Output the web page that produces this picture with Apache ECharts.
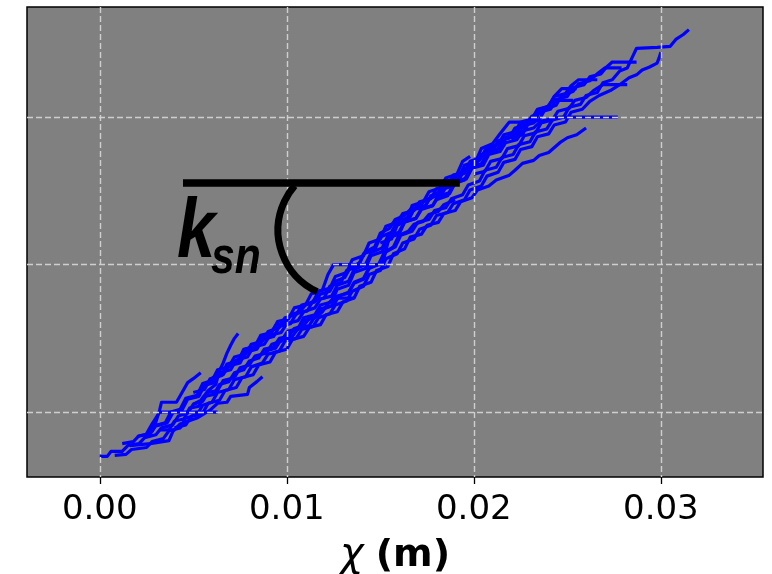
<!DOCTYPE html>
<html><head><meta charset="utf-8">
<script src="https://cdn.jsdelivr.net/npm/echarts@6/dist/echarts.min.js"></script>
<style>html,body{margin:0;padding:0;background:#fff}#c{width:772px;height:574px}</style>
</head><body><div id="c"></div>
<script>
// x axis: chi (m); y axis: elevation-like values (unlabelled in the reference)
const chiTicks = [0, 0.01, 0.02, 0.03];
const chiMin = -0.00389, chiMax = 0.03546;
const elevGrid = [150, 300, 450];
const elevMin = 84, elevMax = 562;

// river profiles, [chi, elevation]
const p01 = [[0.0000,105],[0.0004,105],[0.0006,110],[0.0012,110],[0.0015,116],[0.0021,118],[0.0024,124],[0.0030,127],[0.0033,134],[0.0039,137],[0.0042,146],[0.0047,149],[0.0050,158],[0.0055,161],[0.0058,170],[0.0063,172],[0.0066,182],[0.0072,185],[0.0075,195],[0.0080,198],[0.0083,207],[0.0089,210],[0.0092,219],[0.0097,222],[0.0100,231],[0.0106,234],[0.0109,243],[0.0115,246],[0.0118,255],[0.0124,258],[0.0127,268],[0.0133,271],[0.0136,282],[0.0141,286],[0.0144,297],[0.0150,301],[0.0153,313],[0.0158,318],[0.0161,330],[0.0167,334],[0.0170,343],[0.0176,346],[0.0179,355],[0.0185,358],[0.0188,367],[0.0194,371],[0.0197,381],[0.0203,385],[0.0206,396],[0.0212,399],[0.0215,409],[0.0221,412],[0.0224,422],[0.0230,425],[0.0233,435],[0.0239,438],[0.0242,447],[0.0248,450],[0.0251,460],[0.0257,463],[0.0260,472],[0.0266,475],[0.0269,485],[0.0274,488],[0.0278,497],[0.0282,500],[0.0285,512],[0.0287,520],[0.0298,521],[0.0305,522],[0.0308,529],[0.0312,534],[0.0315,539]];
const p02 = [[0.0008,106],[0.0014,107],[0.0017,112],[0.0025,114],[0.0028,120],[0.0034,123],[0.0037,131],[0.0043,134],[0.0046,144],[0.0052,147],[0.0055,157],[0.0060,160],[0.0063,170],[0.0069,173],[0.0072,183],[0.0078,186],[0.0081,196],[0.0087,200],[0.0090,209],[0.0096,212],[0.0099,222],[0.0105,225],[0.0108,234],[0.0114,237],[0.0117,246],[0.0123,250],[0.0126,259],[0.0132,263],[0.0135,273],[0.0141,278],[0.0144,290],[0.0150,294],[0.0153,306],[0.0159,311],[0.0162,322],[0.0168,326],[0.0171,336],[0.0177,340],[0.0180,350],[0.0186,353],[0.0189,362],[0.0195,366],[0.0198,376],[0.0204,380],[0.0207,390],[0.0213,394],[0.0216,404],[0.0222,407],[0.0225,417],[0.0231,420],[0.0234,430],[0.0240,433],[0.0243,442],[0.0249,445],[0.0252,455],[0.0258,458],[0.0262,466],[0.0267,472],[0.0273,477],[0.0278,483],[0.0283,490],[0.0287,493],[0.0290,498],[0.0294,501],[0.0298,505],[0.0299,510],[0.0300,516]];
const p03 = [[0.0012,118],[0.0018,120],[0.0021,126],[0.0027,128],[0.0030,136],[0.0036,139],[0.0039,149],[0.0044,152],[0.0047,163],[0.0053,166],[0.0056,177],[0.0061,180],[0.0064,190],[0.0070,193],[0.0073,203],[0.0079,206],[0.0082,216],[0.0088,219],[0.0091,228],[0.0097,231],[0.0100,240],[0.0106,243],[0.0109,252],[0.0115,256],[0.0118,265],[0.0124,268],[0.0127,279],[0.0133,283],[0.0136,295],[0.0142,300],[0.0145,312],[0.0151,317],[0.0154,329],[0.0160,333],[0.0163,344],[0.0169,347],[0.0172,356],[0.0178,360],[0.0181,369],[0.0187,372],[0.0190,383],[0.0196,387],[0.0199,398],[0.0205,401],[0.0208,412],[0.0214,415],[0.0217,424],[0.0223,427],[0.0226,436],[0.0232,439],[0.0236,446],[0.0246,450],[0.0277,450]];
const p04 = [[0.0020,125],[0.0026,128],[0.0029,136],[0.0035,139],[0.0038,150],[0.0043,153],[0.0046,164],[0.0052,167],[0.0055,179],[0.0060,182],[0.0063,193],[0.0069,196],[0.0072,206],[0.0078,209],[0.0081,219],[0.0087,222],[0.0090,232],[0.0096,236],[0.0099,246],[0.0105,249],[0.0108,259],[0.0114,262],[0.0117,273],[0.0123,276],[0.0126,288],[0.0132,292],[0.0135,305],[0.0141,309],[0.0144,322],[0.0150,326],[0.0153,339],[0.0159,343],[0.0162,352],[0.0168,355],[0.0171,364],[0.0177,367],[0.0180,377],[0.0186,380],[0.0189,391],[0.0195,394],[0.0198,405],[0.0204,409],[0.0207,419],[0.0213,422],[0.0216,432],[0.0222,435],[0.0225,445],[0.0231,448],[0.0234,458],[0.0240,461],[0.0243,471],[0.0249,474],[0.0252,482],[0.0256,488],[0.0266,488]];
const p05 = [[0.0040,134],[0.0046,137],[0.0049,146],[0.0055,149],[0.0058,159],[0.0064,162],[0.0067,172],[0.0073,175],[0.0076,185],[0.0082,188],[0.0085,198],[0.0091,201],[0.0094,211],[0.0100,214],[0.0103,224],[0.0109,227],[0.0112,236],[0.0118,239],[0.0121,249],[0.0127,252],[0.0130,262],[0.0136,266],[0.0139,278],[0.0145,282],[0.0148,294],[0.0154,298],[0.0157,311],[0.0163,316],[0.0166,328],[0.0172,331],[0.0175,340],[0.0181,343],[0.0184,352],[0.0190,355],[0.0193,364],[0.0199,368],[0.0202,376],[0.0208,380],[0.0212,386],[0.0219,391],[0.0222,396],[0.0226,403],[0.0232,406],[0.0235,411],[0.0240,414],[0.0246,424],[0.0250,429],[0.0255,432],[0.0260,439]];
const p06 = [[0.0060,185],[0.0066,188],[0.0069,197],[0.0075,200],[0.0078,211],[0.0084,214],[0.0087,224],[0.0093,227],[0.0096,237],[0.0102,240],[0.0105,250],[0.0111,253],[0.0114,263],[0.0120,266],[0.0123,278],[0.0129,282],[0.0132,294],[0.0138,298],[0.0141,311],[0.0147,315],[0.0150,328],[0.0156,333],[0.0159,344],[0.0165,348],[0.0168,357],[0.0174,360],[0.0177,369],[0.0183,372],[0.0186,382],[0.0192,386],[0.0195,397],[0.0201,401],[0.0204,412],[0.0210,416],[0.0213,426],[0.0219,429],[0.0222,439],[0.0228,442],[0.0231,451],[0.0237,455],[0.0240,462],[0.0242,467],[0.0253,467]];
const p07 = [[0.0100,232],[0.0106,235],[0.0109,246],[0.0115,249],[0.0118,259],[0.0124,262],[0.0127,275],[0.0133,279],[0.0136,292],[0.0142,296],[0.0145,309],[0.0151,313],[0.0154,327],[0.0160,331],[0.0163,343],[0.0169,347],[0.0172,357],[0.0178,360],[0.0181,370],[0.0187,373],[0.0190,384],[0.0196,388],[0.0199,400],[0.0205,403],[0.0208,415],[0.0214,418],[0.0217,428],[0.0223,431],[0.0226,441],[0.0232,444],[0.0235,455],[0.0241,458],[0.0244,468],[0.0250,471],[0.0253,480],[0.0259,483],[0.0262,491],[0.0268,494],[0.0271,501],[0.0274,506],[0.0287,506]];
const p08 = [[0.0016,116],[0.0027,118],[0.0037,121],[0.0039,130],[0.0043,138],[0.0052,144],[0.0059,152],[0.0063,159],[0.0068,160],[0.0070,166],[0.0079,168],[0.0080,175],[0.0084,181],[0.0087,186]];
const p09 = [[0.0025,128],[0.0028,138],[0.0030,144],[0.0032,150],[0.0063,150]];
const p10 = [[0.0050,158],[0.0054,162],[0.0058,172],[0.0062,178],[0.0064,192],[0.0066,200],[0.0068,210],[0.0070,218],[0.0072,225],[0.0074,230]];
const p11 = [[0.0028,130],[0.0030,140],[0.0032,152],[0.0033,160],[0.0041,160],[0.0044,170],[0.0047,180],[0.0050,184],[0.0054,190]];
const p12 = [[0.0088,212],[0.0094,215],[0.0097,224],[0.0103,227],[0.0106,235],[0.0112,238],[0.0115,247],[0.0119,252],[0.0122,260],[0.0125,266],[0.0136,266]];
const p13 = [[0.0050,170],[0.0056,173],[0.0059,184],[0.0065,187],[0.0068,199],[0.0074,202],[0.0077,214],[0.0083,217],[0.0086,228],[0.0092,231],[0.0095,242],[0.0101,245],[0.0104,256],[0.0110,259],[0.0113,270],[0.0119,274],[0.0122,290],[0.0125,300],[0.0151,300],[0.0154,322],[0.0158,340],[0.0164,345],[0.0167,360],[0.0173,364],[0.0176,374],[0.0182,378],[0.0185,388],[0.0191,392],[0.0194,405],[0.0198,410]];
const p14 = [[0.0150,322],[0.0156,326],[0.0159,340],[0.0165,345],[0.0168,356],[0.0174,359],[0.0177,370],[0.0183,374],[0.0186,385],[0.0192,389],[0.0195,401],[0.0201,405],[0.0204,418],[0.0210,423],[0.0214,433],[0.0219,445],[0.0225,445]];
const p15 = [[0.0180,366],[0.0186,370],[0.0189,382],[0.0195,386],[0.0198,398],[0.0204,402],[0.0207,414],[0.0213,418],[0.0216,429],[0.0222,432],[0.0225,443],[0.0231,446],[0.0234,457],[0.0240,461],[0.0243,471],[0.0247,479],[0.0255,479]];
const p16 = [[0.0200,392],[0.0206,395],[0.0209,405],[0.0215,408],[0.0218,418],[0.0224,421],[0.0227,431],[0.0233,434],[0.0236,444],[0.0242,447],[0.0245,456],[0.0251,459],[0.0254,467],[0.0260,470],[0.0264,477],[0.0269,483],[0.0282,483]];
const p17 = [[0.0220,428],[0.0226,432],[0.0229,443],[0.0235,447],[0.0238,458],[0.0244,462],[0.0247,472],[0.0253,476],[0.0256,484],[0.0262,487],[0.0266,494],[0.0270,500],[0.0279,500]];
const p18 = [[0.0032,132],[0.0037,132],[0.0040,141],[0.0045,143],[0.0048,154],[0.0053,156],[0.0056,166],[0.0061,168],[0.0064,178],[0.0069,181],[0.0072,190],[0.0077,193],[0.0080,202],[0.0085,205],[0.0088,214],[0.0093,216],[0.0096,225],[0.0101,227],[0.0104,235],[0.0109,238],[0.0112,245],[0.0117,248],[0.0120,255],[0.0125,259],[0.0128,268],[0.0133,272],[0.0136,281],[0.0141,285],[0.0144,296],[0.0149,300],[0.0152,312],[0.0157,318],[0.0160,330],[0.0165,334],[0.0168,341],[0.0173,344],[0.0176,351],[0.0181,354],[0.0184,361],[0.0190,366]];
const p19 = [[0.0070,200],[0.0075,202],[0.0078,214],[0.0083,216],[0.0086,226],[0.0091,229],[0.0094,238],[0.0099,241],[0.0102,249],[0.0107,252],[0.0110,259],[0.0115,262],[0.0118,270],[0.0123,273],[0.0126,283],[0.0131,287],[0.0134,297],[0.0139,302],[0.0142,313],[0.0147,318],[0.0150,332],[0.0155,337],[0.0158,346],[0.0163,350],[0.0166,356],[0.0171,359],[0.0174,366],[0.0179,369],[0.0182,376],[0.0187,379],[0.0190,389],[0.0195,393],[0.0198,402],[0.0203,406],[0.0206,416],[0.0211,419],[0.0214,426],[0.0219,429],[0.0222,437],[0.0227,440],[0.0230,446]];

// k_sn annotation (data coordinates)
const kLine = [[0.00445, 383], [0.01925, 383]];
const arcCenter = [0.01316, 335];
const arcRadiusChi = 0.00363;
const arcStartDeg = 115, arcEndDeg = 221;

const profiles = [p01,p02,p03,p04,p05,p06,p07,p08,p09,p10,p11,p12,p13,p14,p15,p16,p17,p18,p19];

const chart = echarts.init(document.getElementById('c'), null, {renderer: 'canvas'});
const series = profiles.map(d => ({
  type: 'line', data: d, symbol: 'none', showSymbol: false, silent: true, z: 2,
  lineStyle: {color: '#0000ff', width: 3.2, join: 'round'}
}));
series.push({
  type: 'line', data: kLine, symbol: 'none', silent: true, z: 6,
  lineStyle: {color: '#000', width: 7.5, cap: 'butt'}
});
series.push({
  type: 'custom', z: 6, silent: true, clip: false,
  data: [arcCenter], encode: {x: 0, y: 1},
  renderItem: function (params, api) {
    const c = api.coord([api.value(0), api.value(1)]);
    const r = api.size([arcRadiusChi, 0])[0];
    return {
      type: 'arc',
      shape: {cx: c[0], cy: c[1], r: r, startAngle: arcStartDeg * Math.PI / 180, endAngle: arcEndDeg * Math.PI / 180, clockwise: true},
      style: {stroke: '#000', lineWidth: 7, fill: null, lineCap: 'butt'}
    };
  }
});

const gridDash = {color: '#cfcfcf', width: 1.4, type: [6, 3]};
chart.setOption({
  animation: false,
  backgroundColor: '#ffffff',
  grid: {left: 27, top: 7, right: 9, bottom: 97, show: true, containLabel: false, outerBoundsMode: 'none',
    backgroundColor: '#808080', borderColor: '#000', borderWidth: 1.5},
  xAxis: {
    type: 'value', min: chiMin, max: chiMax, z: 4,
    axisLine: {show: false},
    axisTick: {show: true, length: 7, lineStyle: {color: '#000', width: 1.3}, customValues: chiTicks},
    axisLabel: {margin: 16, color: '#000', fontSize: 34, fontFamily: 'DejaVu Sans', customValues: chiTicks,
      formatter: v => v.toFixed(2)},
    splitLine: {show: true, lineStyle: gridDash},
    name: '{c|χ} {m|(m)}', nameLocation: 'middle', nameGap: 59,
    nameTextStyle: {fontSize: 38, fontFamily: 'DejaVu Sans', color: '#000',
      rich: {c: {fontSize: 40, fontFamily: 'DejaVu Sans', fontStyle: 'italic', color: '#000'},
             m: {fontSize: 38, fontFamily: 'DejaVu Sans', fontWeight: 'bold', color: '#000'}}}
  },
  yAxis: {
    type: 'value', min: elevMin, max: elevMax, z: 4,
    axisLine: {show: false},
    axisTick: {show: false, customValues: elevGrid},
    axisLabel: {show: false, customValues: elevGrid},
    splitLine: {show: true, lineStyle: gridDash}
  },
  graphic: [
    {type: 'text', x: 177, y: 234, scaleX: 0.82, z: 10,
      style: {text: 'k', font: 'italic bold 84px "Liberation Sans"', fill: '#000', align: 'left', verticalAlign: 'middle'}},
    {type: 'text', x: 211, y: 259, scaleX: 0.82, z: 10,
      style: {text: 'sn', font: 'italic bold 52px "Liberation Sans"', fill: '#000', align: 'left', verticalAlign: 'middle'}}
  ],
  series: series
});
</script></body></html>
